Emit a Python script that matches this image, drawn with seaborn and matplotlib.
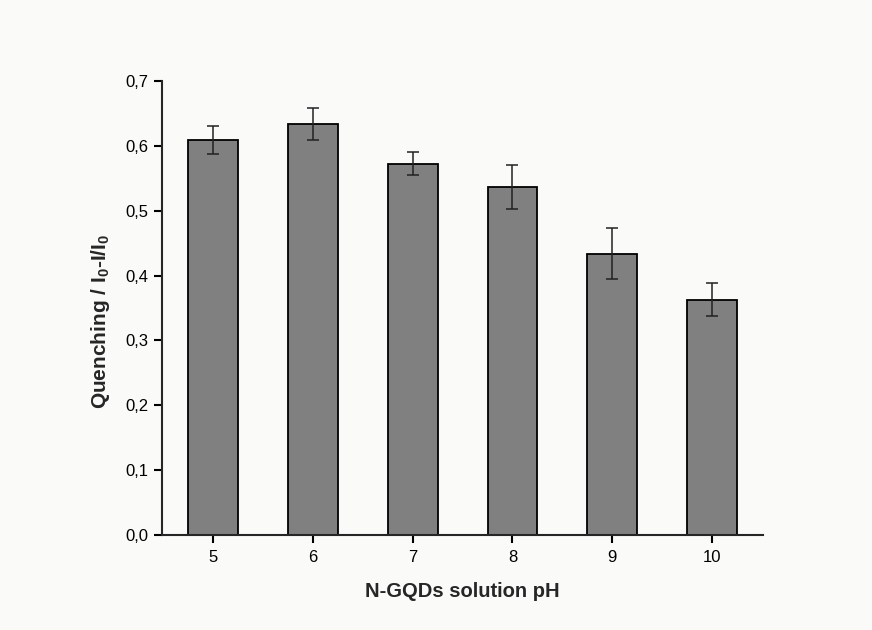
import numpy as np
import pandas as pd
import matplotlib
matplotlib.use("Agg")
import matplotlib.pyplot as plt
import seaborn as sns

# datos
ph = ["5", "6", "7", "8", "9", "10"]
quenching = [0.609, 0.634, 0.573, 0.537, 0.434, 0.363]
error = [0.022, 0.024, 0.018, 0.034, 0.039, 0.025]

sns.set_style("ticks")
plt.rcParams['font.family'] = ['Liberation Sans', 'DejaVu Sans']
plt.rcParams['mathtext.fontset'] = 'custom'
plt.rcParams['mathtext.rm'] = 'Liberation Sans'
plt.rcParams['mathtext.bf'] = 'Liberation Sans:bold'

df = pd.DataFrame({'ph': ph, 'q': quenching, 'err': error})

fig = plt.figure(figsize=(8.72, 6.30), dpi=100, facecolor='#fafaf8')
ax = fig.add_axes([0.186, 0.151, 0.689, 0.720])
ax.set_facecolor('#fafaf8')

sns.barplot(data=df, x='ph', y='q', color='#808080', saturation=1,
            width=0.5, edgecolor='black', linewidth=1.3, errorbar=None, ax=ax)
ax.errorbar(np.arange(len(ph)), df['q'], yerr=df['err'], fmt='none',
            ecolor='#222222', elinewidth=1.1, capsize=4.5, capthick=1.1)

ax.set_xlim(-0.51, 5.51)
ax.set_ylim(0, 0.7)
yt = np.arange(0, 0.71, 0.1)
ax.set_yticks(yt)
ax.set_yticklabels([f"{v:.1f}".replace('.', ',') for v in yt])

sns.despine(ax=ax)
for s in ['left', 'bottom']:
    ax.spines[s].set_linewidth(1.5)
ax.tick_params(direction='out', length=6, width=1.5, labelsize=12,
               colors='black', pad=4)
ax.tick_params(axis='x', pad=5)

ax.set_xlabel('N-GQDs solution pH', fontsize=14.5, fontweight='bold', labelpad=12)
ax.set_ylabel(r'Quenching / I$_\mathbf{0}$-I/I$_\mathbf{0}$', fontsize=15,
              fontweight='bold')
ax.yaxis.set_label_coords(-0.083, 0.47)

plt.savefig('out.png', dpi=100, facecolor=fig.get_facecolor())
plt.close()
